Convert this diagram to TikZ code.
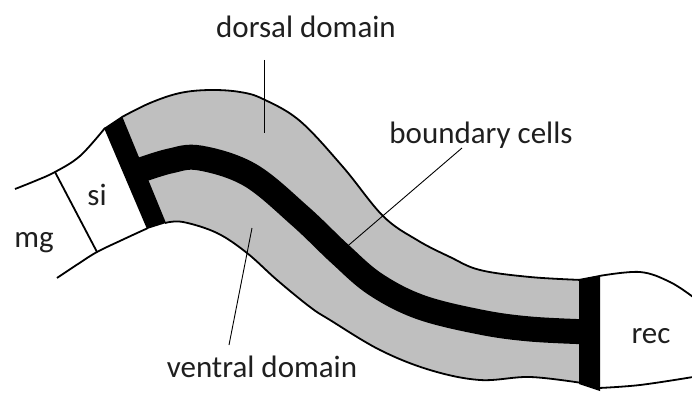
\documentclass[tikz,border=0pt]{standalone}
\usepackage{fontspec}
\setmainfont{Carlito}
\begin{document}
\begin{tikzpicture}[x=1pt,y=-1pt,
  outline/.style={line width=1.8pt, line join=round},
  leader/.style={line width=0.9pt},
  lbl/.style={font=\fontsize{31}{31}\selectfont, text=black!88, inner sep=0pt, anchor=base},
  tissue/.style={fill=black!25},
  band/.style={fill=black}]
\useasboundingbox (0,0) rectangle (692,398);

% grey gut tube between the two black boundary bands
\fill[tissue]
  plot[smooth, tension=0.6] coordinates {(122,117) (150,103) (180,93) (210,90) (240,92) (263,99) (300,121) (343,167) (383,216) (417,240) (450,257) (480,270) (530,277) (582,280)}
  -- plot[smooth, tension=0.6] coordinates {(582,383) (530,377) (480,380) (430,370) (380,350) (330,320) (310,307) (277,280) (247,253) (217,233) (183,222) (165,223)}
  -- cycle;
\draw[outline] plot[smooth, tension=0.6] coordinates {(122,117) (150,103) (180,93) (210,90) (240,92) (263,99) (300,121) (343,167) (383,216) (417,240) (450,257) (480,270) (530,277) (582,280)};
\draw[outline] plot[smooth, tension=0.6] coordinates {(582,383) (530,377) (480,380) (430,370) (380,350) (330,320) (310,307) (277,280) (247,253) (217,233) (183,222) (165,223)};

% boundary cells along the middle of the tube
\draw[line width=25pt, line cap=butt] plot[smooth, tension=0.6] coordinates {(138,171) (170,161) (200,158) (250,175) (300,216) (340,254) (375,284) (420,307) (480,322) (530,329) (590,332)};

% black bands at the small-intestine and rectum ends
\fill[band] (104,128) -- (122,116) -- (166,223) -- (147,229) -- cycle;
\fill[band] (579,279) -- (600,275) -- (600,391) -- (579,384) -- cycle;

% midgut / small intestine walls
\draw[outline] plot[smooth, tension=0.6] coordinates {(15,189) (35,181) (55,172) (80,156) (105,128)};
\draw[outline] plot[smooth, tension=0.6] coordinates {(57,278) (78,264) (97,252) (122,240) (148,228)};
\draw[outline] (55,172) -- (97,252);

% rectum walls
\draw[outline] plot[smooth, tension=0.6] coordinates {(599,276) (640,272) (670,282) (693,297)};
\draw[outline] plot[smooth, tension=0.6] coordinates {(599,388) (640,385) (693,377)};

% labels
\node[lbl] (dorsal) at (306,38) {dorsal domain};
\node[lbl] (boundary) at (481,143) {boundary cells};
\node[lbl] (ventral) at (262,377) {ventral domain};
\node[lbl] (mg) at (34,247) {mg};
\node[lbl] (si) at (97,205) {si};
\node[lbl] (rec) at (651,343) {rec};

% leader lines
\coordinate (dorsalA) at (264,60);
\coordinate (dorsalB) at (264,133);
\coordinate (boundA) at (462,148);
\coordinate (boundB) at (343,250);
\coordinate (ventA) at (229,345);
\coordinate (ventB) at (252,228);
\draw[leader] (dorsalA) -- (dorsalB);
\draw[leader] (boundA) -- (boundB);
\draw[leader] (ventA) -- (ventB);
\end{tikzpicture}
\end{document}
